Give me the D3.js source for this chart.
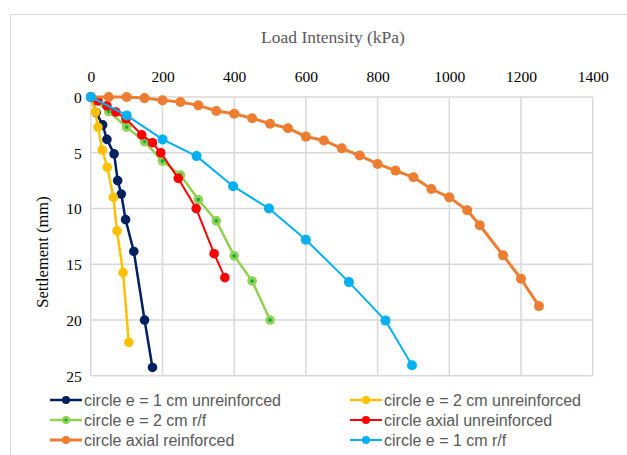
<!DOCTYPE html>
<html>
<head>
<meta charset="utf-8">
<script src="https://cdn.jsdelivr.net/npm/d3@7"></script>
<style>
  body { margin: 0; background: #fff; }
  svg { display: block; }
</style>
</head>
<body>
<div class="container"></div>
<script>
// chart values
var seriesNames = [
  'circle e = 1 cm unreinforced',
  'circle e = 2 cm unreinforced',
  'circle e = 2 cm r/f',
  'circle axial unreinforced',
  'circle axial reinforced',
  'circle e = 1 cm r/f'
];
// load (kPa) and settlement (mm) per series
var e1Unreinf = [[0,0],[15,1.4],[33,2.5],[45,3.8],[65,5.1],[75,7.5],[85,8.7],[97,11.0],[120,13.85],[150,20.0],[172,24.25]];
var e2Unreinf = [[0,0],[13,1.35],[20,2.7],[32,4.75],[46,6.3],[63,9.0],[73,12.0],[90,15.75],[106,22.0]];
var e2Reinf   = [[0,0],[50,1.3],[100,2.7],[150,4.0],[200,5.75],[250,7.0],[300,9.2],[350,11.1],[400,14.25],[450,16.5],[500,20.0]];
var axUnreinf = [[0,0],[20,0.35],[45,0.8],[70,1.35],[98,1.95],[142,3.4],[172,4.1],[195,5.0],[244,7.3],[294,10.0],[344,14.05],[374,16.2]];
var axReinf   = [[0,0],[50,0],[100,0],[150,0.1],[200,0.3],[250,0.45],[300,0.75],[350,1.25],[400,1.5],[450,1.9],[500,2.4],[550,2.8],[600,3.55],[650,3.9],[700,4.6],[750,5.25],[800,6.0],[850,6.6],[900,7.2],[950,8.25],[1000,9.0],[1050,10.15],[1085,11.5],[1150,14.2],[1200,16.3],[1250,18.75]];
var e1Reinf   = [[0,0],[100,1.65],[200,3.8],[295,5.3],[397,8.0],[497,10.0],[600,12.8],[720,16.6],[822,20.05],[896,24.05]];
var xTicks = [0,200,400,600,800,1000,1200,1400];
var yTicks = [0,5,10,15,20,25];

var seriesData = [e1Unreinf, e2Unreinf, e2Reinf, axUnreinf, axReinf, e1Reinf];
var seriesStyle = [
  {color:'#002060', width:2.5, r:4.8},
  {color:'#FFC000', width:2.5, r:4.8},
  {color:'#92D050', width:2.5, r:4.8, dot:'#00B050'},
  {color:'#FF0000', width:2, r:4.8},
  {color:'#ED7D31', width:3, r:5},
  {color:'#00B0F0', width:2, r:5}
];

var W = 627, H = 455;
var svg = d3.select('.container').append('svg')
            .attr('width', W)
            .attr('height', H);

// outer chart border
svg.append('rect')
   .attr('x', 10.5).attr('y', 14.5)
   .attr('width', 700).attr('height', 600)
   .style('fill','none').style('stroke','#d9d9d9').style('stroke-width',1);

var x = d3.scaleLinear().domain([0,1400]).range([90.8, 592.7]);
var y = d3.scaleLinear().domain([0,25]).range([97, 375.8]);

// gridlines
svg.append('g').selectAll('line.vg')
   .data(xTicks).enter().append('line')
   .attr('x1', function(d){return x(d);}).attr('x2', function(d){return x(d);})
   .attr('y1', y(0)).attr('y2', y(25))
   .style('stroke','#d9d9d9').style('stroke-width',1.5);
svg.append('g').selectAll('line.hg')
   .data(yTicks).enter().append('line')
   .attr('x1', x(0)).attr('x2', x(1400))
   .attr('y1', function(d){return y(d);}).attr('y2', function(d){return y(d);})
   .style('stroke','#d9d9d9').style('stroke-width',1.5);

// axes (labels only)
var xAxis = svg.append('g')
   .attr('transform','translate(0,' + (y(0) - 15) + ')')
   .call(d3.axisTop(x).tickValues(xTicks).tickFormat(d3.format('d')).tickSize(0).tickPadding(0));
var yAxis = svg.append('g')
   .attr('transform','translate(' + (x(0) - 9) + ',0)')
   .call(d3.axisLeft(y).tickValues(yTicks).tickFormat(d3.format('d')).tickSize(0).tickPadding(0));
svg.selectAll('.domain').remove();
svg.selectAll('.tick text')
   .style('font-family','"Liberation Serif", serif')
   .style('font-size','15.5px')
   .style('fill','#000');
xAxis.selectAll('.tick text').attr('dy','0');
yAxis.selectAll('.tick text').attr('dy','0.35em');

// titles
svg.append('text')
   .attr('x', 333).attr('y', 43)
   .attr('text-anchor','middle')
   .style('font-family','"Liberation Serif", serif')
   .style('font-size','17.5px')
   .style('fill','#595959')
   .text('Load Intensity (kPa)');
svg.append('text')
   .attr('transform','translate(48,' + 252 + ') rotate(-90)')
   .attr('text-anchor','middle')
   .style('font-family','"Liberation Serif", serif')
   .style('font-size','16.5px')
   .style('fill','#000')
   .text('Settlement (mm)');

// series lines and markers
var line = d3.line()
             .x(function(d){return x(d[0]);})
             .y(function(d){return y(d[1]);});

seriesData.forEach(function(data, i){
  var st = seriesStyle[i];
  var g = svg.append('g');
  g.append('path').datum(data)
   .attr('d', line)
   .style('fill','none')
   .style('stroke', st.color)
   .style('stroke-width', st.width)
   .style('stroke-linejoin','round');
  g.selectAll('circle.m').data(data).enter().append('circle')
   .attr('cx', function(d){return x(d[0]);})
   .attr('cy', function(d){return y(d[1]);})
   .attr('r', st.r)
   .style('fill', st.color);
  if (st.dot) {
    g.selectAll('circle.d').data(data).enter().append('circle')
     .attr('cx', function(d){return x(d[0]);})
     .attr('cy', function(d){return y(d[1]);})
     .attr('r', 1.8)
     .style('fill', st.dot);
  }
});

// legend
var legendPos = [[50,400],[350,400],[50,420],[350,420],[50,440],[350,440]];
seriesNames.forEach(function(name, i){
  var st = seriesStyle[i];
  var p = legendPos[i];
  var g = svg.append('g').attr('transform','translate(' + p[0] + ',' + p[1] + ')');
  g.append('line')
   .attr('x1',0).attr('x2',32).attr('y1',0).attr('y2',0)
   .style('stroke', st.color).style('stroke-width', st.width);
  g.append('circle').attr('cx',16).attr('cy',0).attr('r',4).style('fill', st.color);
  if (st.dot) g.append('circle').attr('cx',16).attr('cy',0).attr('r',1.6).style('fill', st.dot);
  g.append('text')
   .attr('x',34).attr('y',0).attr('dy','0.35em')
   .style('font-family','"Liberation Sans", sans-serif')
   .style('font-size','16px')
   .style('fill','#595959')
   .text(name);
});
</script>
</body>
</html>
